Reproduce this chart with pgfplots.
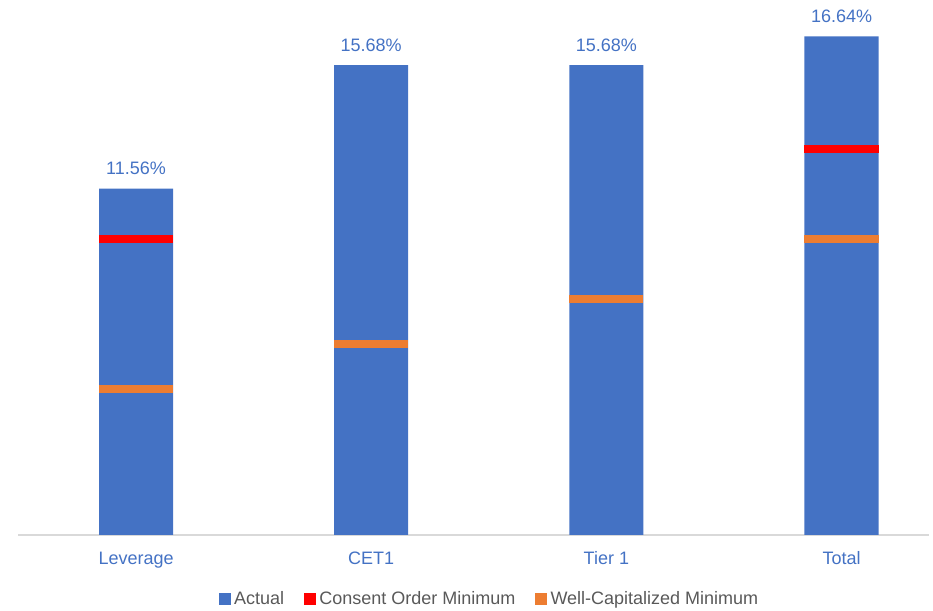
\documentclass[border=0pt]{standalone}
\usepackage{pgfplots}
\pgfplotsset{compat=1.18}
\usepackage{fontspec}
\setmainfont{Liberation Sans}
\definecolor{cblue}{HTML}{4472C4}
\definecolor{cred}{HTML}{FF0000}
\definecolor{corange}{HTML}{ED7D31}
\definecolor{ctext}{HTML}{595959}
\definecolor{caxis}{HTML}{D9D9D9}
\begin{document}
\begin{tikzpicture}
\path[use as bounding box] (-13.5pt,-57pt) rectangle (686.25pt,401.25pt);
\begin{axis}[
  at={(0,0)}, anchor=south west,
  scale only axis,
  width=683.25pt, height=401.25pt,
  xmin=-0.502, xmax=3.372,
  ymin=0, ymax=17.851,
  clip=false,
  axis x line*=bottom,
  axis y line=none,
  x axis line style={-, draw=caxis, line width=1.1pt},
  xtick={0,1,2,3},
  xticklabels={Leverage,CET1,Tier 1,Total},
  major tick length=0pt,
  xticklabel style={font=\fontsize{13.5}{16}\selectfont, text=cblue, yshift=-9pt},
  legend style={at={(0.518,-0.1196)}, anchor=center, draw=none, fill=none,
    font=\fontsize{13.5}{16}\selectfont, text=ctext, legend columns=3,
    /tikz/every odd column/.append style={column sep=1pt},
    /tikz/every even column/.append style={column sep=13pt}},
  legend image code/.code={\fill[#1] (0pt,-4pt) rectangle (8pt,4pt);},
]
\addplot[ybar, bar width=0.315, bar shift=0pt, fill=cblue, draw=none, forget plot,
  point meta=explicit symbolic,
  nodes near coords, nodes near coords style={font=\fontsize{13.5}{16}\selectfont, text=cblue, anchor=south, yshift=6.5pt}]
  coordinates {(0,11.56)[11.56\%] (1,15.68)[15.68\%] (2,15.68)[15.68\%] (3,16.64)[16.64\%]};
% Consent Order Minimum markers
\addplot[fill=cred, draw=none, forget plot] coordinates {(-0.1575,9.75) (0.1575,9.75) (0.1575,10) (-0.1575,10)} -- cycle;
\addplot[fill=cred, draw=none, forget plot] coordinates {(2.8425,12.75) (3.1575,12.75) (3.1575,13) (2.8425,13)} -- cycle;
% Well-Capitalized Minimum markers
\addplot[fill=corange, draw=none, forget plot] coordinates {(-0.1575,4.75) (0.1575,4.75) (0.1575,5) (-0.1575,5)} -- cycle;
\addplot[fill=corange, draw=none, forget plot] coordinates {(0.8425,6.25) (1.1575,6.25) (1.1575,6.5) (0.8425,6.5)} -- cycle;
\addplot[fill=corange, draw=none, forget plot] coordinates {(1.8425,7.75) (2.1575,7.75) (2.1575,8) (1.8425,8)} -- cycle;
\addplot[fill=corange, draw=none, forget plot] coordinates {(2.8425,9.75) (3.1575,9.75) (3.1575,10) (2.8425,10)} -- cycle;
\addlegendimage{cblue}
\addlegendentry{Actual}
\addlegendimage{cred}
\addlegendentry{Consent Order Minimum}
\addlegendimage{corange}
\addlegendentry{Well-Capitalized Minimum}
\end{axis}
\end{tikzpicture}
\end{document}
